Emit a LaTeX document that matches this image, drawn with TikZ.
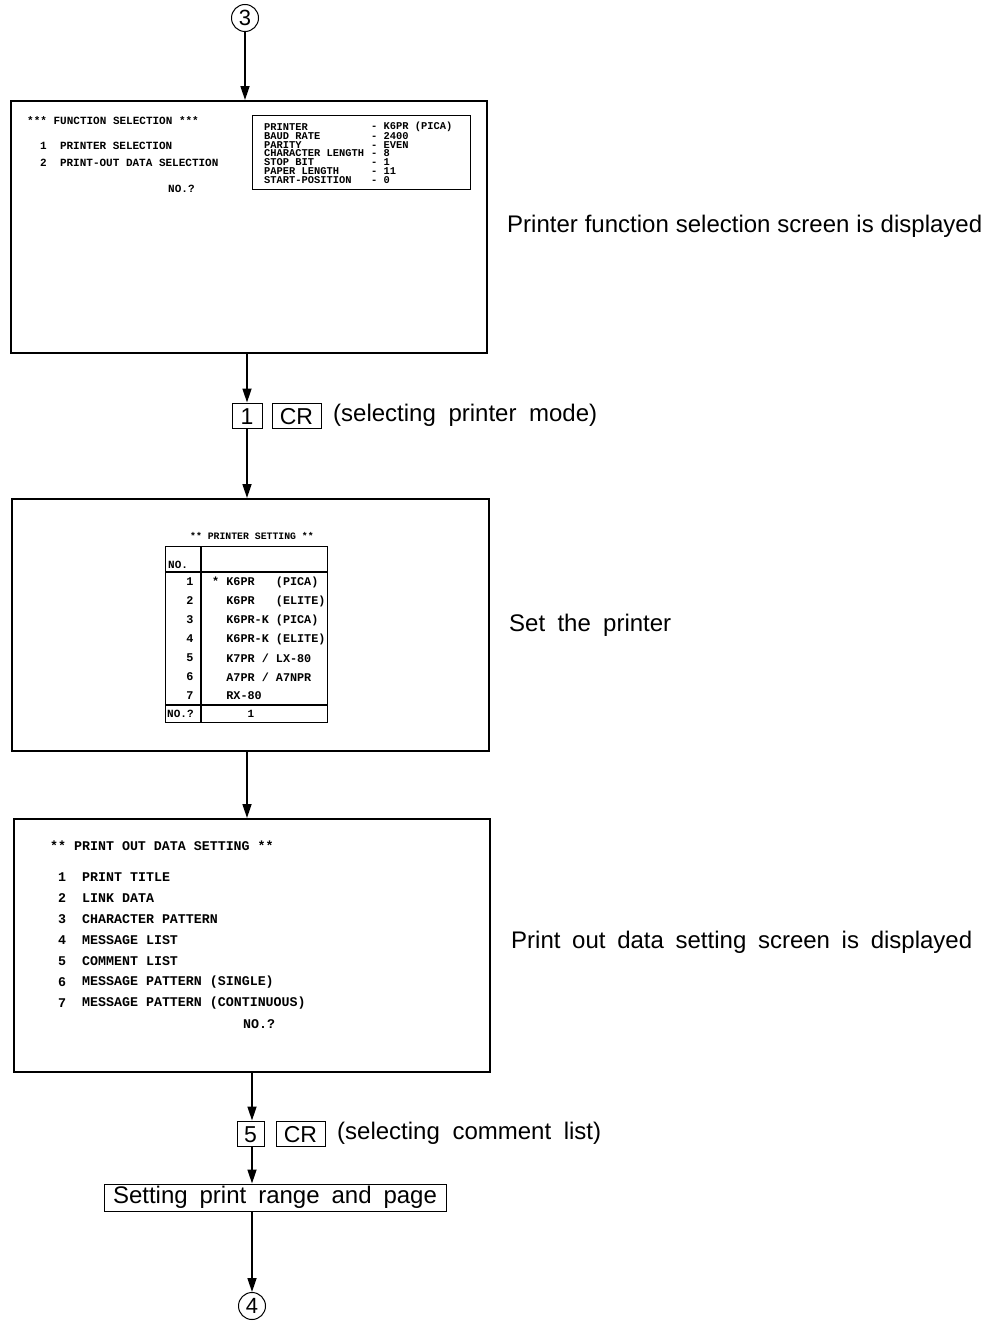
\documentclass[tikz,border=0pt]{standalone}
\usepackage{fontspec}
\setmainfont{Liberation Sans}
\newfontfamily\scr{Liberation Mono}
\usetikzlibrary{arrows.meta}
\begin{document}
\begin{tikzpicture}[x=1pt,y=-1pt,
  screenbox/.style={draw, line width=2.2pt, inner sep=0, anchor=north west},
  innerbox/.style={draw, line width=1.1pt, inner sep=0, anchor=north west},
  st/.style={font=\scr\bfseries\fontsize{11}{11}\selectfont, anchor=west, inner sep=0},
  sn/.style={font=\scr\bfseries\fontsize{11}{11}\selectfont, anchor=center, inner sep=0},
  ib/.style={font=\scr\bfseries\fontsize{10.4}{10.4}\selectfont, anchor=west, inner sep=0},
  tt/.style={font=\scr\bfseries\fontsize{11.8}{11.8}\selectfont, anchor=west, inner sep=0},
  tn/.style={font=\scr\bfseries\fontsize{11.8}{11.8}\selectfont, anchor=center, inner sep=0},
  bt/.style={font=\scr\bfseries\fontsize{13.3}{13.3}\selectfont, anchor=west, inner sep=0},
  bn/.style={font=\scr\bfseries\fontsize{13.3}{13.3}\selectfont, anchor=center, inner sep=0},
  lbl/.style={font=\fontsize{24}{28}\selectfont, anchor=west, inner sep=0},
  keybox/.style={draw, line width=1pt, inner sep=0, font=\fontsize{23}{26}\selectfont, text height=17pt, text depth=0pt},
  numcirc/.style={circle, draw, line width=1pt, minimum size=27pt, inner sep=0, font=\fontsize{22}{22}\selectfont},
  arr/.style={line width=1.7pt, -{Triangle[length=14pt,width=9pt]}}]
\useasboundingbox (0,0) rectangle (994,1322);

% connector circle 3
\node[numcirc] (c3) at (245,18) {3};

% ---------- box 1 ----------
\node[screenbox, minimum width=476pt, minimum height=252pt] (b1) at (10,100) {};
\node[st] (t1a) at (27,121) {*** FUNCTION SELECTION ***};
\node[st] (t1b) at (40,146) {1\ \ PRINTER SELECTION};
\node[st] (t1c) at (40,163) {2\ \ PRINT-OUT DATA SELECTION};
\node[st] (t1d) at (168,189) {NO.?};
\node[innerbox, minimum width=218pt, minimum height=74pt] (ibx) at (252,115) {};
\foreach \n/\v [count=\i from 0] in {PRINTER/K6PR (PICA), BAUD RATE/2400, PARITY/EVEN, CHARACTER LENGTH/8, STOP BIT/1, PAPER LENGTH/11, START-POSITION/0}{
  \node[ib] (p\i) at (264,{127+8.8*\i}) {\n};
  \node[ib] (v\i) at (371,{127+8.8*\i}) {- \v};
}
\node[lbl] (l1) at (507,226) {\makebox[475pt][s]{Printer function selection screen is displayed}};

% keys 1 CR
\node[keybox, minimum width=30pt, minimum height=25pt] (k1) at (247,415.5) {1};
\node[keybox, minimum width=49pt, minimum height=25pt] (kcr1) at (296.5,415.5) {CR};
\node[lbl] (s1) at (333,415.5) {\makebox[264pt][s]{(selecting printer mode)}};

% ---------- box 2 ----------
\node[screenbox, minimum width=477pt, minimum height=252pt] (b2) at (11,498) {};
\node[st, font=\scr\bfseries\fontsize{9.8}{9.8}\selectfont] (t2) at (190,536) {** PRINTER SETTING **};
\node[innerbox, minimum width=162pt, minimum height=176pt] (tb) at (165,546) {};
\draw[line width=1.1pt] (201,546) -- (201,722);
\draw[line width=1.1pt] (165,572) -- (327,572);
\draw[line width=1.1pt] (165,705) -- (327,705);
\node[st] (h0) at (168,565) {NO.};
\foreach \it [count=\i] in {{* K6PR\ \ \ (PICA)},{\ \ K6PR\ \ \ (ELITE)},{\ \ K6PR-K (PICA)},{\ \ K6PR-K (ELITE)},{\ \ K7PR / LX-80},{\ \ A7PR / A7NPR},{\ \ RX-80}}{
  \node[tn] (rn\i) at (190,{582+19*(\i-1)}) {\i};
  \node[tt] (rt\i) at (212,{582+19*(\i-1)}) {\it};
}
\node[st] (fq) at (167,714) {NO.?};
\node[sn] (fv) at (251,714) {1};
\node[lbl] (l2) at (509,625) {\makebox[162pt][s]{Set the printer}};

% ---------- box 3 ----------
\node[screenbox, minimum width=476pt, minimum height=253pt] (b3) at (13,818) {};
\node[bt] (t3) at (50,846) {** PRINT OUT DATA SETTING **};
\foreach \it [count=\i] in {PRINT TITLE, LINK DATA, CHARACTER PATTERN, MESSAGE LIST, COMMENT LIST, MESSAGE PATTERN (SINGLE), MESSAGE PATTERN (CONTINUOUS)}{
  \node[bn] (mn\i) at (62,{877+21*(\i-1)}) {\i};
  \node[bt] (mt\i) at (82,{877+21*(\i-1)}) {\it};
}
\node[bt] (t3q) at (243,1024) {NO.?};
\node[lbl] (l3) at (511,942) {\makebox[461pt][s]{Print out data setting screen is displayed}};

% keys 5 CR
\node[keybox, minimum width=27pt, minimum height=25pt] (k5) at (250.5,1133.5) {5};
\node[keybox, minimum width=49pt, minimum height=25pt] (kcr5) at (300.5,1133.5) {CR};
\node[lbl] (s5) at (337,1133.5) {\makebox[264pt][s]{(selecting comment list)}};

% setting box
\node[draw, line width=1pt, minimum width=342pt, minimum height=27pt, inner sep=0, font=\fontsize{24}{28}\selectfont] (sp) at (275,1197.5) {\makebox[324pt][s]{Setting print range and page}};

\node[numcirc] (c4) at (252,1306) {4};

% connectors
\draw[arr] (c3.south) -- (c3.south |- b1.north);
\draw[arr] (k1.north |- b1.south) -- (k1.north);
\draw[arr] (k1.south) -- (k1.south |- b2.north);
\draw[arr] (k1.south |- b2.south) -- (k1.south |- b3.north);
\coordinate (x3) at (252,0);
\draw[arr] (x3 |- b3.south) -- (x3 |- k5.north);
\draw[arr] (x3 |- k5.south) -- (x3 |- sp.north);
\draw[arr] (x3 |- sp.south) -- (c4.north);
\end{tikzpicture}
\end{document}
